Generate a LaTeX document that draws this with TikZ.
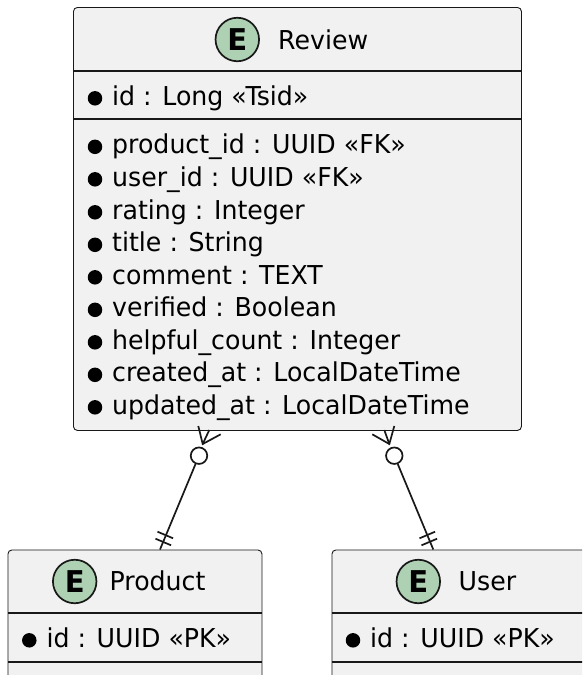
\documentclass[tikz,border=0pt]{standalone}
\usepackage{fontspec}
\setmainfont[FakeStretch=0.97]{DejaVu Sans}
\usetikzlibrary{calc}
\definecolor{boxfill}{HTML}{F1F1F1}
\definecolor{ink}{HTML}{181818}
\definecolor{spot}{HTML}{ADD1B2}
\tikzset{
  x=1pt,y=1pt,
  entity/.style={draw=ink,line width=0.9pt,fill=boxfill,rounded corners=4pt,inner sep=0pt,anchor=north west},
  sep/.style={draw=ink,line width=1.2pt},
  spotc/.style={circle,draw=ink,line width=1.7pt,fill=spot,minimum size=43.5pt,inner sep=0pt,font=\fontsize{30}{30}\selectfont\bfseries},
  title/.style={anchor=base west,inner sep=0pt,font=\fontsize{26}{26}\selectfont,text=black},
  member/.style={anchor=base west,inner sep=0pt,font=\fontsize{26}{26}\selectfont,text=black},
  dot/.style={circle,fill=black,minimum size=14.5pt,inner sep=0pt},
  link/.style={draw=ink,line width=1.7pt},
  zero/.style={circle,draw=ink,line width=1.7pt,fill=white,minimum size=16.5pt,inner sep=0pt},
}
\newcommand{\memb}[4]{\node[dot] (d#1) at (#2,#3+6.7) {};\node[member] (m#1) at (#2+17,#3) {#4};}
\begin{document}
\begin{tikzpicture}
\useasboundingbox (0,0) rectangle (582,-675);
\clip (0,0) rectangle (582,-675);
% Review
\node[entity,minimum width=448pt,minimum height=423pt] (review) at (73,-7) {};
\draw[sep] (review.west |- 0,-71) -- (review.east |- 0,-71);
\draw[sep] (review.west |- 0,-119) -- (review.east |- 0,-119);
\node[spotc] (se1) at (237.3,-39.5) {E};
\node[title] (t1) at (278,-49) {Review};
\memb{a}{95}{-105}{id : Long «Tsid»}
\memb{b}{95}{-153.5}{product\_id : UUID «FK»}
\memb{c}{95}{-186}{user\_id : UUID «FK»}
\memb{e}{95}{-219}{rating : Integer}
\memb{f}{95}{-251.5}{title : String}
\memb{g}{95}{-284}{comment : TEXT}
\memb{h}{95}{-316.5}{verified : Boolean}
\memb{i}{95}{-349}{helpful\_count : Integer}
\memb{j}{95}{-381.5}{created\_at : LocalDateTime}
\memb{k}{95}{-414}{updated\_at : LocalDateTime}
% Product
\node[entity,minimum width=254pt,minimum height=160pt] (product) at (7.5,-549.5) {};
\draw[sep] (product.west |- 0,-613) -- (product.east |- 0,-613);
\draw[sep] (product.west |- 0,-662) -- (product.east |- 0,-662);
\node[spotc] (se2) at (74.7,-581.5) {E};
\node[title] (t2) at (109.5,-590.5) {Product};
\memb{p}{29.3}{-647}{id : UUID «PK»}
% User
\node[entity,minimum width=300pt,minimum height=160pt] (user) at (331.5,-549.5) {};
\draw[sep] (user.west |- 0,-613) -- (user.east |- 0,-613);
\draw[sep] (user.west |- 0,-662) -- (user.east |- 0,-662);
\node[spotc] (se3) at (418.3,-581.5) {E};
\node[title] (t3) at (458.5,-590.5) {User};
\memb{u}{353}{-647}{id : UUID «PK»}
% Connectors
\node[zero] (zl) at (199,-455.7) {};
\node[zero] (zr) at (394.3,-455.7) {};
\coordinate (cl) at (202.7,-444);
\coordinate (cr) at (389.3,-444);
\draw[link] (198.3,-426) -- (cl) -- (220.7,-434.3);
\draw[link] (209.3,-430) -- (cl);
\draw[link] (394.3,-426) -- (cr) -- (372.3,-434.3);
\draw[link] (384.3,-430) -- (cr);
\draw[link] (zl) -- ($(product.north west)+(152.5,0)$);
\draw[link] (zr) -- ($(user.north west)+(101.8,0)$);
\draw[link] (157.5,-531.7) -- (173.1,-538.3);
\draw[link] (155.5,-538.7) -- (171.1,-545.3);
\draw[link] (419.5,-538.3) -- (435.1,-531.7);
\draw[link] (421.5,-545.3) -- (437.1,-538.7);
\end{tikzpicture}
\end{document}
